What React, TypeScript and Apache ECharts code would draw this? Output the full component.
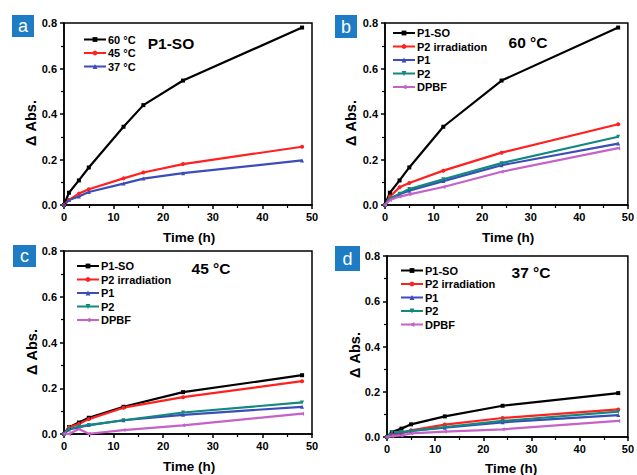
import React, { useEffect, useRef } from "react";
import * as echarts from "echarts";

const timesA = [0, 1, 3, 5, 12, 16, 24, 48];
const times = [0, 1, 3, 5, 12, 24, 48];

const a60 = [0, 0.054, 0.108, 0.165, 0.344, 0.439, 0.547, 0.78];
const a45 = [0, 0.022, 0.05, 0.069, 0.117, 0.143, 0.18, 0.256];
const a37 = [0, 0.022, 0.037, 0.057, 0.094, 0.116, 0.14, 0.196];

const b_P1SO = [0, 0.054, 0.108, 0.165, 0.344, 0.547, 0.78];
const b_P2irr = [0, 0.037, 0.078, 0.097, 0.151, 0.23, 0.355];
const b_P1 = [0, 0.03, 0.047, 0.063, 0.105, 0.175, 0.27];
const b_P2 = [0, 0.026, 0.05, 0.07, 0.113, 0.184, 0.3];
const b_DPBF = [0, 0.022, 0.037, 0.047, 0.079, 0.146, 0.25];

const c_P1SO = [0, 0.03, 0.05, 0.071, 0.119, 0.183, 0.257];
const c_P2irr = [0, 0.03, 0.044, 0.065, 0.115, 0.161, 0.231];
const c_P1 = [0, 0.02, 0.029, 0.039, 0.06, 0.084, 0.119];
const c_P2 = [0, 0.022, 0.033, 0.039, 0.06, 0.094, 0.138];
const c_DPBF = [0, 0, 0.022, 0.001, 0.017, 0.038, 0.089];

const d_P1SO = [0, 0.022, 0.037, 0.056, 0.091, 0.138, 0.194];
const d_P2irr = [0, 0.012, 0.016, 0.03, 0.055, 0.084, 0.122];
const d_P1 = [0, 0.015, 0.019, 0.027, 0.041, 0.065, 0.097];
const d_P2 = [0, 0.022, 0.022, 0.027, 0.044, 0.071, 0.112];
const d_DPBF = [0, 0.004, 0.007, 0.016, 0.024, 0.034, 0.071];

const namesA = ["60 °C", "45 °C", "37 °C"];
const names = ["P1-SO", "P2 irradiation", "P1", "P2", "DPBF"];
const panelLabels = ["a", "b", "c", "d"];
const panelTitles = ["P1-SO", "60 °C", "45 °C", "37 °C"];

const BLACK = "#000000";
const RED = "#ff2020";
const BLUE = "#3a4db8";
const TEAL = "#12887e";
const PINK = "#c462c8";

const styles = [
  { color: BLACK, symbol: "rect", rot: 0 },
  { color: RED, symbol: "circle", rot: 0 },
  { color: BLUE, symbol: "triangle", rot: 0 },
  { color: TEAL, symbol: "triangle", rot: 180 },
  { color: PINK, symbol: "triangle", rot: 90 },
];

const FONT = "Liberation Sans, Arial, sans-serif";

const grids = [
  { left: 64, top: 23, width: 248, height: 182 },
  { left: 385, top: 23, width: 246, height: 182 },
  { left: 64, top: 251, width: 248, height: 183 },
  { left: 387, top: 256, width: 246, height: 181 },
];

function mkSeries(name: string, xs: number[], ys: number[], idx: number, st: any) {
  return {
    type: "line",
    name,
    xAxisIndex: idx,
    yAxisIndex: idx,
    data: xs.map((x, i) => [x, ys[i]]),
    symbol: st.symbol,
    symbolRotate: st.rot,
    symbolSize: 4,
    showSymbol: true,
    lineStyle: { color: st.color, width: 2.2 },
    itemStyle: { color: st.color },
    z: 3,
  };
}

export default function App() {
  const ref = useRef<HTMLDivElement>(null);
  useEffect(() => {
    const chart = echarts.init(ref.current!, null, { renderer: "svg" });
    const xAxes = grids.map((_, i) => ({
      type: "value",
      gridIndex: i,
      min: 0,
      max: 50,
      interval: 10,
      axisLine: { show: true, onZero: false, lineStyle: { color: BLACK, width: 1.5 } },
      axisTick: { show: true, inside: false, length: 4, lineStyle: { color: BLACK, width: 1.5 } },
      minorTick: { show: true, splitNumber: 2, length: 3, lineStyle: { color: BLACK, width: 1.2 } },
      splitLine: { show: false },
      axisLabel: { color: BLACK, fontFamily: FONT, fontWeight: "bold", fontSize: 11, margin: 6 },
    }));
    const yAxes = grids.map((_, i) => ({
      type: "value",
      gridIndex: i,
      min: 0,
      max: 0.8,
      interval: 0.2,
      axisLine: { show: true, onZero: false, lineStyle: { color: BLACK, width: 1.5 } },
      axisTick: { show: true, inside: false, length: 4, lineStyle: { color: BLACK, width: 1.5 } },
      minorTick: { show: true, splitNumber: 2, length: 3, lineStyle: { color: BLACK, width: 1.2 } },
      splitLine: { show: false },
      axisLabel: {
        color: BLACK,
        fontFamily: FONT,
        fontWeight: "bold",
        fontSize: 11,
        margin: 7,
        formatter: (v: number) => v.toFixed(1),
      },
    }));

    const series: any[] = [];
    [a60, a45, a37].forEach((ys, k) => series.push(mkSeries(namesA[k], timesA, ys, 0, styles[k])));
    const panels = [
      [b_P1SO, b_P2irr, b_P1, b_P2, b_DPBF],
      [c_P1SO, c_P2irr, c_P1, c_P2, c_DPBF],
      [d_P1SO, d_P2irr, d_P1, d_P2, d_DPBF],
    ];
    panels.forEach((p, pi) =>
      p.forEach((ys, k) => series.push(mkSeries(names[k], times, ys, pi + 1, styles[k])))
    );

    const legendBase = {
      orient: "vertical",
      padding: 0,
      itemWidth: 22,
      itemHeight: 6,
      itemGap: 2.5,
      selectedMode: false,
      textStyle: { color: BLACK, fontFamily: FONT, fontWeight: "bold", fontSize: 11, padding: [0, 0, 0, -3] },
    };
    const legends = [
      { ...legendBase, data: namesA, left: 83, top: 34 },
      { ...legendBase, data: names, left: 392, top: 27.5 },
      { ...legendBase, data: names, left: 76, top: 260.5 },
      { ...legendBase, data: names, left: 400, top: 265 },
    ];

    const labelBoxes = [
      { x: 12, y: 15, w: 22, h: 22 },
      { x: 335, y: 15, w: 22, h: 23 },
      { x: 13, y: 245, w: 23, h: 22 },
      { x: 335, y: 246, w: 25, h: 25 },
    ];
    const titlePos = [
      { x: 171, y: 43 },
      { x: 528, y: 42 },
      { x: 211, y: 268 },
      { x: 531, y: 272 },
    ];
    const yTitle = [
      { x: 31, y: 123 },
      { x: 351, y: 123 },
      { x: 32, y: 352 },
      { x: 355, y: 355 },
    ];
    const xTitle = [
      { x: 189, y: 237 },
      { x: 508, y: 237 },
      { x: 189, y: 466 },
      { x: 511, y: 468 },
    ];

    const graphic: any[] = [];
    labelBoxes.forEach((b, i) => {
      graphic.push({
        type: "rect",
        shape: { x: b.x, y: b.y, width: b.w, height: b.h },
        style: { fill: "#1d7cc3" },
      });
      graphic.push({
        type: "text",
        x: b.x + b.w / 2,
        y: b.y + b.h / 2,
        style: {
          text: panelLabels[i],
          fill: "#ffffff",
          font: `18px ${FONT}`,
          textAlign: "center",
          textVerticalAlign: "middle",
          align: "center",
          verticalAlign: "middle",
        },
      });
    });
    titlePos.forEach((p, i) => {
      graphic.push({
        type: "text",
        x: p.x,
        y: p.y,
        style: {
          text: panelTitles[i],
          fill: BLACK,
          font: `bold 15.5px ${FONT}`,
          textAlign: "center",
          textVerticalAlign: "middle",
          align: "center",
          verticalAlign: "middle",
        },
      });
    });
    yTitle.forEach((p) => {
      graphic.push({
        type: "text",
        x: p.x,
        y: p.y,
        rotation: Math.PI / 2,
        style: {
          text: "Δ Abs.",
          fill: BLACK,
          font: `bold 14.5px ${FONT}`,
          textAlign: "center",
          textVerticalAlign: "middle",
          align: "center",
          verticalAlign: "middle",
        },
      });
    });
    xTitle.forEach((p) => {
      graphic.push({
        type: "text",
        x: p.x,
        y: p.y,
        style: {
          text: "Time (h)",
          fill: BLACK,
          font: `bold 13.5px ${FONT}`,
          textAlign: "center",
          textVerticalAlign: "middle",
          align: "center",
          verticalAlign: "middle",
        },
      });
    });

    chart.setOption({
      animation: false,
      backgroundColor: "#ffffff",
      grid: grids.map((g) => ({
        ...g,
        show: true,
        borderColor: BLACK,
        borderWidth: 1.5,
        backgroundColor: "transparent",
        containLabel: false,
      })),
      xAxis: xAxes,
      yAxis: yAxes,
      legend: legends,
      series,
      graphic,
    });
    return () => chart.dispose();
  }, []);
  return (
    <div
      ref={ref}
      style={{ position: "fixed", left: 0, top: 0, width: 637, height: 475 }}
    />
  );
}
